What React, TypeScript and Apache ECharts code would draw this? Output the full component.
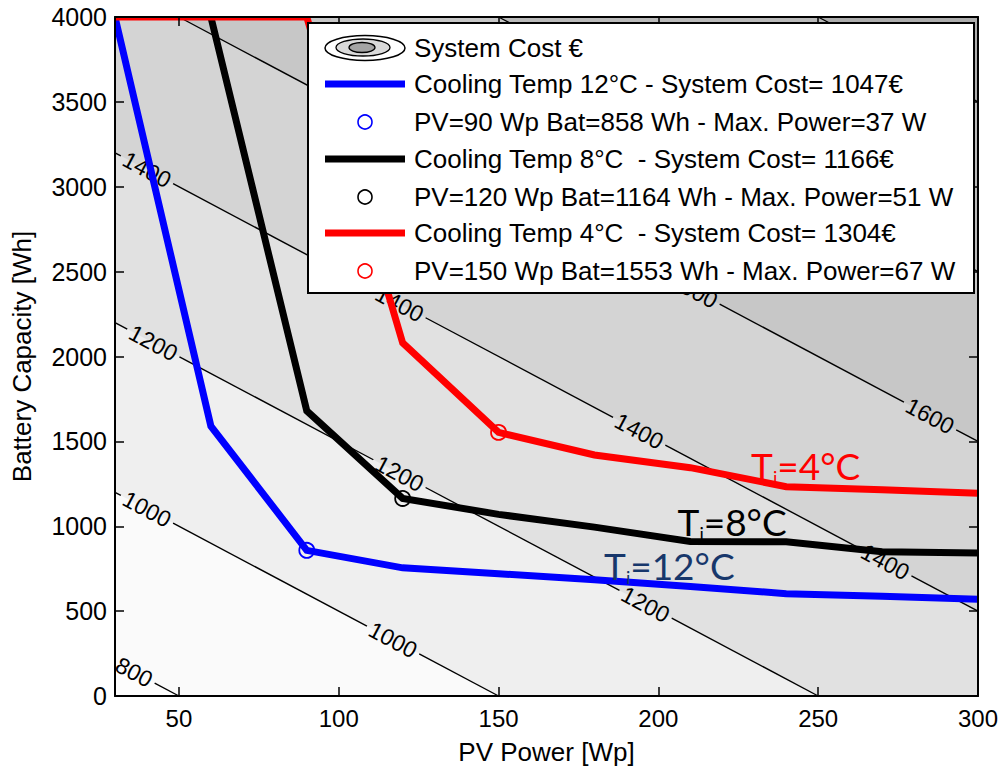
import React, { useEffect, useRef } from "react";
import * as echarts from "echarts";

const FONT = '"Liberation Sans", Arial, Helvetica, sans-serif';

// ---- iso-cost contour lines of the System Cost surface (€) ----
const contourLevels = [800, 1000, 1200, 1400, 1600, 1800, 2000];
// end points [PV Wp, Battery Wh] of each straight contour
const contourStart = [[30, 200], [30, 1200], [30, 2200], [30, 3200], [50, 4000], [150, 4000], [250, 4000]];
const contourEnd = [[50, 0], [150, 0], [250, 0], [300, 500], [300, 1500], [300, 2500], [300, 3500]];
// PV values where the inline level labels sit
const contourLabelPV = [[36], [40, 117], [42, 119, 196], [40, 119, 194, 271], [211, 285], [], []];
// fill below the first level, then above each level
const bandColors = ["#fdfdfd", "#fafafa", "#efefef", "#e1e1e1", "#d4d4d4", "#c7c7c7", "#bababa", "#adadad"];

// ---- optimum curves ----
const pvBlue = [30, 60, 90, 120, 150, 180, 210, 240, 270, 300];
const batBlue = [4000, 1590, 858, 755, 720, 685, 645, 603, 588, 570];
const pvBlack = [60, 90, 120, 150, 180, 210, 240, 270, 300];
const batBlack = [4000, 1680, 1164, 1070, 995, 910, 908, 850, 843];
const pvRed = [30, 60, 90, 120, 150, 180, 210, 240, 270, 300];
const batRed = [4000, 4000, 4000, 2080, 1553, 1420, 1345, 1233, 1215, 1195];

// chosen operating points
const optPV = [90, 120, 150];
const optBat = [858, 1164, 1553];

const curveColors = ["#0000ff", "#000000", "#ff0000"];

// inline temperature annotations
const annotTemp = ["12", "8", "4"];
const annotPV = [183, 206, 229];
const annotBat = [767, 1027, 1357];
const annotColors = ["#17376b", "#000000", "#ff0000"];

const legendLabels = [
  "System Cost €",
  "Cooling Temp 12°C - System Cost= 1047€",
  "PV=90 Wp Bat=858 Wh - Max. Power=37 W",
  "Cooling Temp 8°C  - System Cost= 1166€",
  "PV=120 Wp Bat=1164 Wh - Max. Power=51 W",
  "Cooling Temp 4°C  - System Cost= 1304€",
  "PV=150 Wp Bat=1553 Wh - Max. Power=67 W",
];

const xName = "PV Power [Wp]";
const yName = "Battery Capacity [Wh]";

function clipHalfPlane(poly: number[][], p: number[], n: number[]) {
  const out: number[][] = [];
  for (let k = 0; k < poly.length; k++) {
    const a = poly[k];
    const b = poly[(k + 1) % poly.length];
    const sa = (a[0] - p[0]) * n[0] + (a[1] - p[1]) * n[1];
    const sb = (b[0] - p[0]) * n[0] + (b[1] - p[1]) * n[1];
    if (sa >= 0) out.push(a);
    if (sa >= 0 !== sb >= 0) {
      const t = sa / (sa - sb);
      out.push([a[0] + t * (b[0] - a[0]), a[1] + t * (b[1] - a[1])]);
    }
  }
  return out;
}

function buildOption() {
  const axisCommon = {
    z: 10,
    axisLine: { show: true, onZero: false, lineStyle: { color: "#000", width: 2 } },
    axisTick: { show: true, inside: true, length: 9, lineStyle: { color: "#000", width: 1.5 } },
    splitLine: { show: false },
  };

  const series: any[] = [];

  // filled cost bands
  series.push({
    type: "custom",
    coordinateSystem: "cartesian2d",
    z: 1,
    silent: true,
    data: contourLevels.map((lv, i) => [i, lv]),
    renderItem: (params: any, api: any) => {
      const i = params.dataIndex;
      const cs = params.coordSys;
      const rect = [
        [cs.x, cs.y],
        [cs.x + cs.width, cs.y],
        [cs.x + cs.width, cs.y + cs.height],
        [cs.x, cs.y + cs.height],
      ];
      const p = api.coord(contourStart[i]);
      const q = api.coord(contourEnd[i]);
      const d = [q[0] - p[0], q[1] - p[1]];
      const n = [d[1], -d[0]];
      const poly = clipHalfPlane(rect, p, n);
      return { type: "polygon", shape: { points: poly }, style: { fill: bandColors[i + 1] } };
    },
  });

  // contour lines with inline labels
  series.push({
    type: "custom",
    coordinateSystem: "cartesian2d",
    z: 2,
    silent: true,
    data: contourLevels.map((lv, i) => [i, lv]),
    renderItem: (params: any, api: any) => {
      const i = params.dataIndex;
      const p = api.coord(contourStart[i]);
      const q = api.coord(contourEnd[i]);
      const dx = q[0] - p[0];
      const dy = q[1] - p[1];
      const L = Math.hypot(dx, dy);
      const ux = dx / L;
      const uy = dy / L;
      const ang = Math.atan2(dy, dx);
      const text = String(contourLevels[i]);
      const fs = 23;
      const half = (text.length * 0.556 * fs) / 2 + 4;
      const spots = contourLabelPV[i]
        .map((pv) => (api.coord([pv, 0])[0] - p[0]) / ux)
        .sort((a, b) => a - b);
      const seg = (a: number, b: number) => ({
        type: "line",
        shape: { x1: p[0] + ux * a, y1: p[1] + uy * a, x2: p[0] + ux * b, y2: p[1] + uy * b },
        style: { stroke: "#000", lineWidth: 1.4 },
      });
      const children: any[] = [];
      let s0 = 0;
      for (const s of spots) {
        if (s - half > s0) children.push(seg(s0, s - half));
        s0 = s + half;
        children.push({
          type: "text",
          x: p[0] + ux * s,
          y: p[1] + uy * s,
          rotation: -ang,
          style: {
            text,
            fontSize: fs,
            fontFamily: FONT,
            fill: "#000",
            align: "center",
            verticalAlign: "middle",
          },
        });
      }
      if (s0 < L) children.push(seg(s0, L));
      return { type: "group", children };
    },
  });

  const curves = [
    [pvBlue, batBlue],
    [pvBlack, batBlack],
    [pvRed, batRed],
  ];
  curves.forEach(([xs, ys], k) => {
    series.push({
      type: "line",
      z: 3,
      silent: true,
      symbol: "none",
      showSymbol: false,
      data: xs.map((x, j) => [x, ys[j]]),
      lineStyle: { color: curveColors[k], width: 7, cap: "butt", join: "miter", opacity: 1 },
    });
    series.push({
      type: "scatter",
      z: 4,
      silent: true,
      symbol: "circle",
      symbolSize: 15,
      data: [[optPV[k], optBat[k]]],
      itemStyle: { color: "rgba(0,0,0,0)", borderColor: curveColors[k], borderWidth: 1.8, opacity: 1 },
    });
  });

  annotTemp.forEach((t, k) => {
    const c = annotColors[k];
    series.push({
      type: "scatter",
      z: 5,
      silent: true,
      symbolSize: 0,
      itemStyle: { color: "rgba(0,0,0,0)", opacity: 1 },
      data: [[annotPV[k], annotBat[k]]],
      label: {
        show: true,
        position: "right",
        distance: 0,
        opacity: 1,
        formatter: `{t|T}{s|i}{t|=${t}°C}`,
        rich: {
          t: { fontSize: 37, fontFamily: "Lato", color: c, lineHeight: 40, opacity: 1 },
          s: { fontSize: 18, fontFamily: "Lato", color: c, lineHeight: 14, verticalAlign: "bottom", opacity: 1 },
        },
      },
    });
  });

  // legend drawn as graphics
  const rowsY = [48, 84, 122, 159, 197, 233, 271];
  const lg: any[] = [];
  lg.push({
    type: "rect",
    z: 20,
    shape: { x: 308, y: 23, width: 666, height: 270 },
    style: { fill: "#fff", stroke: "#000", lineWidth: 2 },
  });
  lg.push({
    type: "ellipse",
    z: 21,
    shape: { cx: 365, cy: rowsY[0], rx: 40, ry: 12.5 },
    style: { fill: "#fff", stroke: "#000", lineWidth: 1.5 },
  });
  lg.push({
    type: "ellipse",
    z: 21,
    shape: { cx: 363, cy: rowsY[0] - 0.5, rx: 27, ry: 8.5 },
    style: { fill: "#dadada", stroke: "#000", lineWidth: 1.3 },
  });
  lg.push({
    type: "ellipse",
    z: 21,
    shape: { cx: 362, cy: rowsY[0] - 0.5, rx: 13, ry: 5 },
    style: { fill: "#a4a4a4", stroke: "#000", lineWidth: 1.3 },
  });
  [0, 1, 2].forEach((k) => {
    lg.push({
      type: "line",
      z: 21,
      shape: { x1: 325, y1: rowsY[1 + 2 * k], x2: 405, y2: rowsY[1 + 2 * k] },
      style: { stroke: curveColors[k], lineWidth: 7 },
    });
    lg.push({
      type: "circle",
      z: 21,
      shape: { cx: 365, cy: rowsY[2 + 2 * k], r: 7 },
      style: { fill: "none", stroke: curveColors[k], lineWidth: 1.6 },
    });
  });
  legendLabels.forEach((t, k) => {
    lg.push({
      type: "text",
      z: 21,
      x: 414,
      y: rowsY[k],
      style: {
        text: t,
        fontSize: 26,
        fontFamily: FONT,
        fill: "#000",
        align: "left",
        verticalAlign: "middle",
      },
    });
  });

  // cover strips outside the plot so thick curves do not spill over the frame
  const covers = [
    { type: "rect", z: 6, silent: true, shape: { x: 0, y: 0, width: 998, height: 16 }, style: { fill: "#fff" } },
    { type: "rect", z: 6, silent: true, shape: { x: 0, y: 0, width: 114, height: 768 }, style: { fill: "#fff" } },
  ];

  return {
    animation: false,
    backgroundColor: "#fff",
    textStyle: { fontFamily: FONT, color: "#000" },
    grid: {
      left: 115,
      top: 17,
      width: 863,
      height: 679,
      show: true,
      backgroundColor: bandColors[0],
      borderWidth: 0,
      containLabel: false,
      outerBoundsMode: "none",
    },
    xAxis: [
      {
        ...axisCommon,
        type: "value",
        position: "bottom",
        min: 30,
        max: 300,
        axisLabel: {
          color: "#000",
          fontSize: 24,
          fontFamily: FONT,
          margin: 10,
          formatter: (v: number) => (v === 30 ? "" : String(v)),
        },
        name: xName,
        nameLocation: "middle",
        nameGap: 43,
        nameTextStyle: { fontSize: 26, color: "#000", fontFamily: FONT },
      },
      {
        ...axisCommon,
        type: "value",
        position: "top",
        min: 30,
        max: 300,
        axisLabel: { show: false },
      },
    ],
    yAxis: [
      {
        ...axisCommon,
        type: "value",
        position: "left",
        min: 0,
        max: 4000,
        interval: 500,
        axisLabel: {
          color: "#000",
          fontSize: 25,
          fontFamily: FONT,
          margin: 8,
          formatter: (v: number) => String(v),
        },
        name: yName,
        nameLocation: "middle",
        nameGap: 80,
        nameTextStyle: { fontSize: 26, color: "#000", fontFamily: FONT },
      },
      {
        ...axisCommon,
        type: "value",
        position: "right",
        min: 0,
        max: 4000,
        interval: 500,
        axisLabel: { show: false },
      },
    ],
    graphic: { elements: [...covers, ...lg] },
    series,
  };
}

export default function App() {
  const ref = useRef<HTMLDivElement>(null);
  useEffect(() => {
    if (!ref.current) return;
    const chart = echarts.init(ref.current, null, { renderer: "svg" });
    chart.setOption(buildOption() as any);
    return () => chart.dispose();
  }, []);
  return (
    <div
      ref={ref}
      style={{ position: "fixed", left: 0, top: 0, width: 998, height: 768, background: "#fff" }}
    />
  );
}
